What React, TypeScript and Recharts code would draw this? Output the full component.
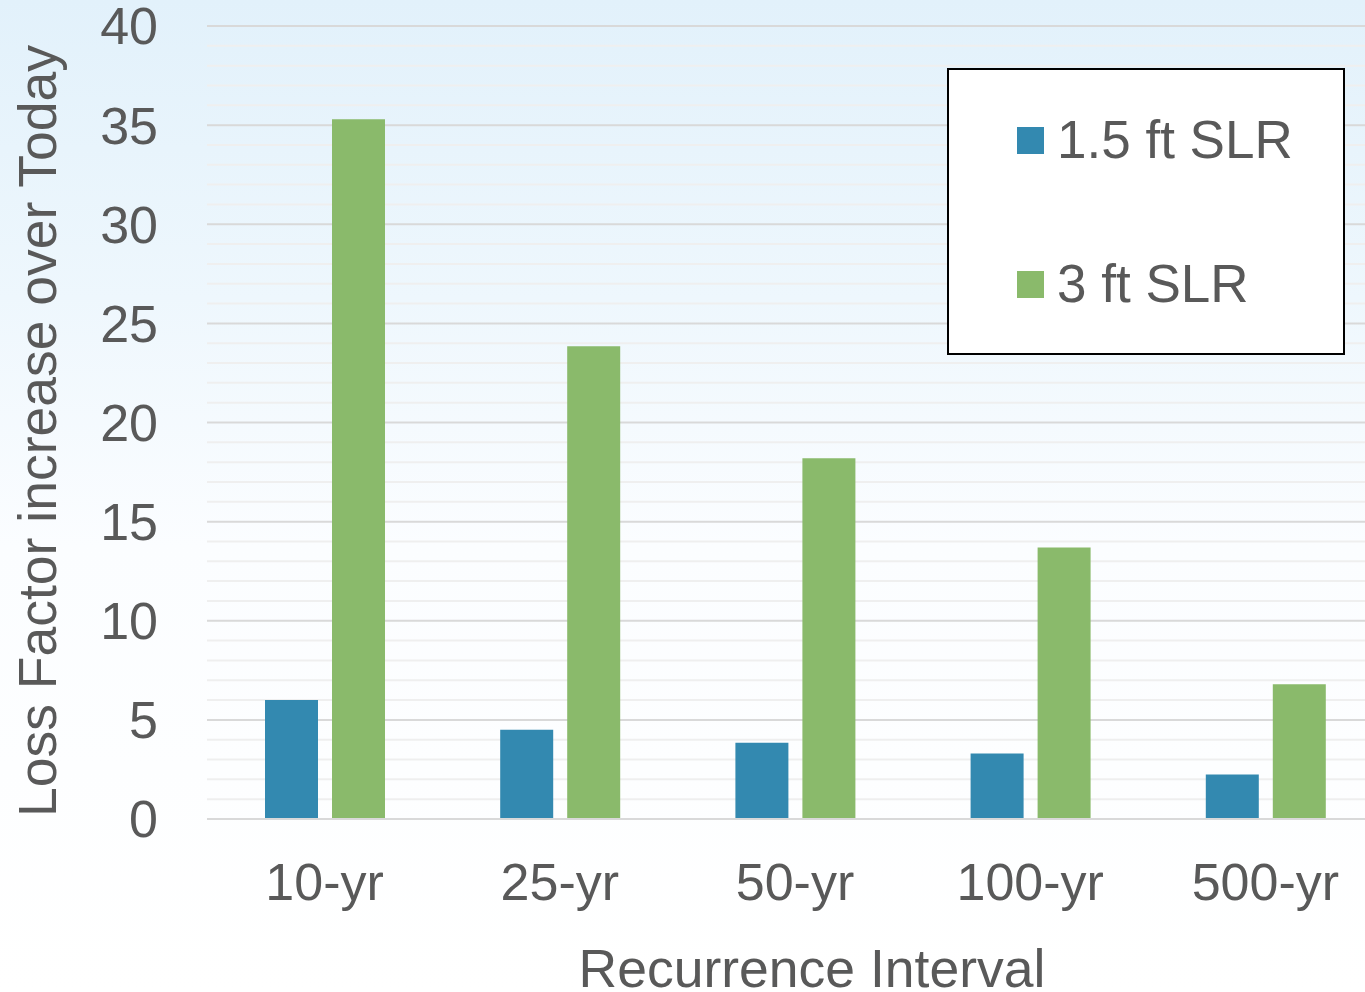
import React from "react";
import { BarChart, Bar, XAxis, YAxis, CartesianGrid } from "recharts";

const CATEGORIES = ["10-yr", "25-yr", "50-yr", "100-yr", "500-yr"];
const SLR_15 = [6.0, 4.5, 3.85, 3.3, 2.25];
const SLR_3 = [35.3, 23.85, 18.2, 13.7, 6.8];
const MAJOR_TICKS = [0, 5, 10, 15, 20, 25, 30, 35, 40];
const MINOR_TICKS = [
  1, 2, 3, 4, 6, 7, 8, 9, 11, 12, 13, 14, 16, 17, 18, 19, 21, 22, 23, 24, 26,
  27, 28, 29, 31, 32, 33, 34, 36, 37, 38, 39,
];
const SERIES = [
  { key: "slr15", label: "1.5 ft SLR", color: "#3389b0" },
  { key: "slr3", label: "3 ft SLR", color: "#8aba6b" },
];

const TEXT = "#595959";
const FONT = "'Liberation Sans', Arial, sans-serif";

const data = CATEGORIES.map((name, i) => ({
  name,
  slr15: SLR_15[i],
  slr3: SLR_3[i],
}));

// legend box drawn on top of the plot, like the original slide
const LegendBox = () => (
  <div
    style={{
      position: "absolute",
      left: 947,
      top: 68,
      width: 398,
      height: 287,
      boxSizing: "border-box",
      border: "2px solid #000",
      background: "#fff",
      fontFamily: FONT,
    }}
  >
    {SERIES.map((s, i) => (
      <div key={s.key}>
        <span
          style={{
            position: "absolute",
            left: 68,
            top: 57 + i * 144,
            width: 27,
            height: 27,
            background: s.color,
          }}
        />
        <span
          style={{
            position: "absolute",
            left: 108,
            top: 40 + i * 144,
            fontSize: 53,
            lineHeight: "60px",
            color: TEXT,
            whiteSpace: "nowrap",
          }}
        >
          {s.label}
        </span>
      </div>
    ))}
  </div>
);

export default function App() {
  return (
    <div
      style={{
        position: "fixed",
        left: 0,
        top: 0,
        width: 1365,
        height: 992,
        overflow: "hidden",
        background:
          "linear-gradient(180deg, #e2f1fb 0%, #eef7fd 30%, #fbfdff 55%, #ffffff 100%)",
      }}
    >
      <BarChart
        width={1383}
        height={992}
        data={data}
        margin={{ top: 26, right: 0, left: 0, bottom: 0 }}
        barSize={53}
        barGap={14}
        style={{ fontFamily: FONT }}
      >
        <CartesianGrid
          vertical={false}
          stroke="#efefef"
          strokeWidth={2}
          horizontalValues={MINOR_TICKS}
        />
        <CartesianGrid vertical={false} stroke="#d9d9d9" strokeWidth={2} />
        <XAxis
          dataKey="name"
          height={173}
          tickLine={false}
          tickSize={0}
          tickMargin={44}
          axisLine={{ stroke: "#d9d9d9", strokeWidth: 2 }}
          tick={{ fill: TEXT, fontSize: 52 }}
          label={{
            content: () => (
              <text
                x={812}
                y={987}
                textAnchor="middle"
                fill={TEXT}
                fontSize={53.5}
                fontFamily={FONT}
              >
                Recurrence Interval
              </text>
            ),
          }}
        />
        <YAxis
          width={207}
          domain={[0, 40]}
          ticks={MAJOR_TICKS}
          interval={0}
          axisLine={false}
          tickLine={false}
          tickSize={0}
          tickMargin={49}
          tick={{ fill: TEXT, fontSize: 52 }}
          label={{
            content: () => (
              <text
                x={56}
                y={431}
                transform="rotate(-90 56 431)"
                textAnchor="middle"
                fill={TEXT}
                fontSize={53.5}
                fontFamily={FONT}
              >
                Loss Factor increase over Today
              </text>
            ),
          }}
        />
        {SERIES.map((s) => (
          <Bar
            key={s.key}
            dataKey={s.key}
            name={s.label}
            fill={s.color}
            isAnimationActive={false}
          />
        ))}
      </BarChart>
      <LegendBox />
    </div>
  );
}
